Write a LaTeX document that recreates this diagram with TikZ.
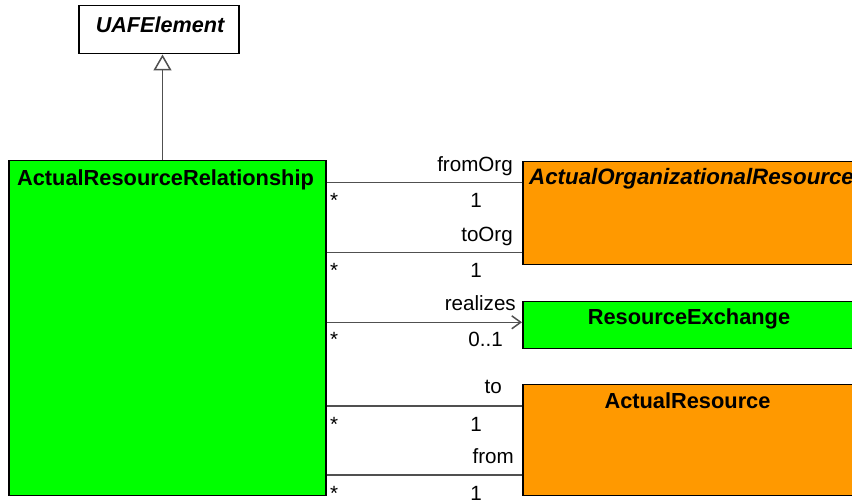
\documentclass[tikz,border=0pt]{standalone}
\usepackage{fontspec}
\setmainfont{Liberation Sans}
\usetikzlibrary{arrows.meta}
\definecolor{umlgreen}{HTML}{00FF00}
\definecolor{umlorange}{HTML}{FF9900}
\definecolor{linegray}{HTML}{505050}
\newcommand{\umlsize}{\fontsize{20.6}{25}\selectfont}
\newcommand{\umltsize}{\fontsize{21.8}{25}\selectfont}
\newcommand{\umlisize}{\fontsize{22.3}{25}\selectfont}
\tikzset{
  umlbox/.style={draw=black, line width=1.5pt, inner sep=0pt, anchor=north west},
  conn/.style={draw=linegray, line width=1.5pt},
  gen/.style={conn, -{Triangle[open, length=16pt, width=18pt, fill=white]}},
  nav/.style={conn, -{Straight Barb[length=9pt, width=13pt, line width=1.5pt]}},
  role/.style={anchor=base east, inner sep=0pt},
  mult/.style={anchor=base, inner sep=0pt},
  star/.style={anchor=base west, inner sep=0pt},
  title/.style={anchor=base, inner sep=0pt, font=\umltsize\bfseries},
  ititle/.style={anchor=base, inner sep=0pt, font=\umlisize\bfseries\itshape},
}
\begin{document}
\begin{tikzpicture}[x=1pt, y=-1pt, font=\umlsize]
\useasboundingbox (0,0) rectangle (852,502);
% boxes
\node[umlbox, fill=white, minimum width=160pt, minimum height=48pt] (uaf) at (78,5) {};
\node[umlbox, fill=umlgreen, minimum width=317pt, minimum height=335pt] (arr) at (8,160) {};
\node[umlbox, fill=umlorange, minimum width=360pt, minimum height=103pt] (aor) at (522,161) {};
\node[umlbox, fill=umlgreen, minimum width=334pt, minimum height=47pt] (rex) at (522,300.7) {};
\node[umlbox, fill=umlorange, minimum width=334pt, minimum height=111pt] (ar) at (522,384) {};
% titles
\node[ititle, font=\fontsize{21.6}{25}\selectfont\bfseries\itshape] (uafT) at (160,33) {UAFElement};
\node[title] (arrT) at (165.5,186) {ActualResourceRelationship};
\node[ititle, anchor=base west] (aorT) at (529,185) {ActualOrganizationalResource};
\node[title] (rexT) at (689,325) {ResourceExchange};
\node[title] (arT) at (687.5,409) {ActualResource};
% generalization
\coordinate (gx) at (162.5,0);
\draw[gen] (arr.north -| gx) -- (uaf.south -| gx);
% association rows
\coordinate (r1) at (0,182.3);
\coordinate (r2) at (0,252.3);
\coordinate (r3) at (0,322.3);
\coordinate (r4) at (0,406);
\coordinate (r5) at (0,475);
\draw[conn] (arr.east |- r1) -- (aor.west |- r1);
\draw[conn] (arr.east |- r2) -- (aor.west |- r2);
\draw[nav] (arr.east |- r3) -- (rex.west |- r3);
\draw[conn] (arr.east |- r4) -- (ar.west |- r4);
\draw[conn] (arr.east |- r5) -- (ar.west |- r5);
% role names
\node[role] (l1) at (513,172) {fromOrg};
\node[role] (l2) at (513,242) {toOrg};
\node[role] (l3) at (516,311) {realizes};
\node[role] (l4) at (502,394) {to};
\node[role] (l5) at (514,464) {from};
% multiplicities
\node[mult] (m1) at (476,208) {1};
\node[mult] (m2) at (476,278) {1};
\node[mult, anchor=base east] (m3) at (503,347) {0..1};
\node[mult] (m4) at (476,431.5) {1};
\node[mult] (m5) at (476,500.5) {1};
\node[star] (s1) at (330,208) {*};
\node[star] (s2) at (330,278) {*};
\node[star] (s3) at (330,347) {*};
\node[star] (s4) at (330,431.5) {*};
\node[star] (s5) at (330,500.5) {*};
\end{tikzpicture}
\end{document}
